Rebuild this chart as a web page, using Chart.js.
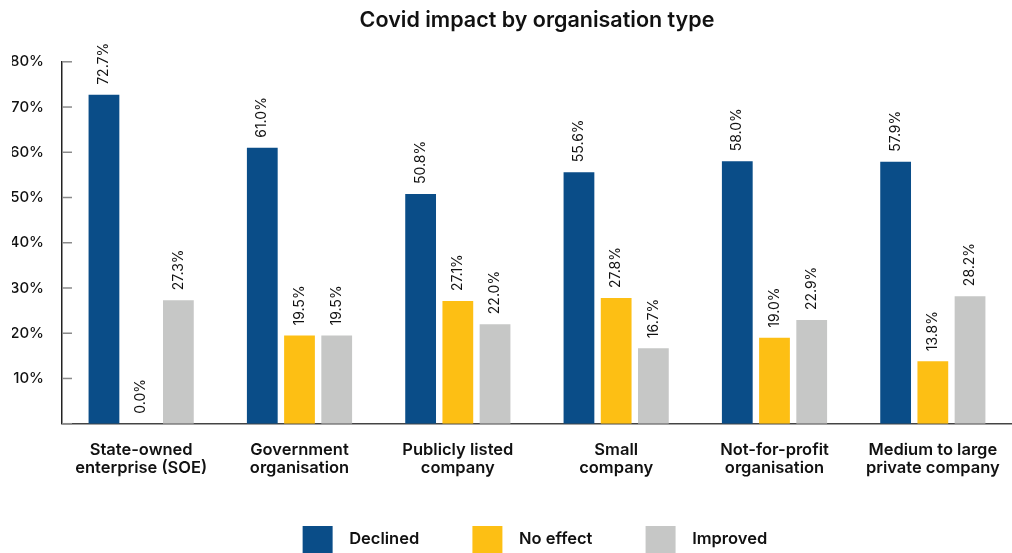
<!DOCTYPE html>
<html>
<head>
<meta charset="utf-8">
<script src="https://cdn.jsdelivr.net/npm/chart.js@4.4.1/dist/chart.umd.min.js"></script>
<style>
  html, body { margin: 0; padding: 0; background: #fff; }
  #wrap { width: 1012px; height: 553px; }
</style>
</head>
<body>
<div id="wrap"><canvas id="impact-chart"></canvas></div>
<script>
const categories = [
    ["State-owned", "enterprise (SOE)"],
    ["Government", "organisation"],
    ["Publicly listed", "company"],
    ["Small", "company"],
    ["Not-for-profit", "organisation"],
    ["Medium to large", "private company"]
];
const declined = [72.7, 61.0, 50.8, 55.6, 58.0, 57.9];
const noEffect = [0.0, 19.5, 27.1, 27.8, 19.0, 13.8];
const improved = [27.3, 19.5, 22.0, 16.7, 22.9, 28.2];
const yTicks = [0, 10, 20, 30, 40, 50, 60, 70, 80];

const FONT = "Inter, 'Noto Sans', sans-serif";

// value labels, rotated, sitting above each bar
const valueLabels = {
    id: 'valueLabels',
    afterDatasetsDraw(chart) {
        const ctx = chart.ctx;
        ctx.save();
        ctx.font = `400 14px ${FONT}`;
        ctx.fillStyle = '#111';
        ctx.textAlign = 'left';
        ctx.textBaseline = 'middle';
        chart.data.datasets.forEach((ds, i) => {
            chart.getDatasetMeta(i).data.forEach((bar, j) => {
                ctx.save();
                ctx.translate(bar.x, bar.y - 10);
                ctx.rotate(-Math.PI / 2);
                ctx.fillText(ds.data[j].toFixed(1) + '%', 0, 0);
                ctx.restore();
            });
        });
        ctx.restore();
    }
};

// short tick marks pointing into the plot
const innerTicks = {
    id: 'innerTicks',
    afterDraw(chart) {
        const ctx = chart.ctx;
        const y = chart.scales.y;
        const left = chart.chartArea.left;
        ctx.save();
        ctx.strokeStyle = '#8a8a8a';
        ctx.lineWidth = 1.5;
        yTicks.forEach(v => {
            const py = y.getPixelForValue(v);
            ctx.beginPath();
            ctx.moveTo(left, py);
            ctx.lineTo(left + 10, py);
            ctx.stroke();
        });
        ctx.restore();
    }
};

const ctx = document.getElementById('impact-chart').getContext('2d');
const impactChart = new Chart(ctx, {
    type: 'bar',
    data: {
        labels: categories,
        datasets: [
            { label: 'Declined', data: declined, backgroundColor: '#0a4d88' },
            { label: 'No effect', data: noEffect, backgroundColor: '#fdbf14' },
            { label: 'Improved', data: improved, backgroundColor: '#c6c7c6' }
        ]
    },
    options: {
        responsive: true,
        maintainAspectRatio: false,
        animation: false,
        categoryPercentage: 0.705,
        barPercentage: 0.827,
        layout: {
            padding: { left: 12, right: 0, top: 0, bottom: -10 }
        },
        plugins: {
            title: {
                display: true,
                fullSize: false,
                text: 'Covid impact by organisation type',
                color: '#111',
                font: { family: FONT, size: 21.5, weight: '600' },
                padding: { top: 8, bottom: 28 }
            },
            legend: {
                position: 'bottom',
                fullSize: false,
                labels: {
                    boxWidth: 30,
                    boxHeight: 27,
                    padding: 49,
                    color: '#111',
                    font: { family: FONT, size: 16.5, weight: '600' },
                    generateLabels(chart) {
                        return Chart.defaults.plugins.legend.labels.generateLabels(chart)
                            .map(item => ({ ...item, text: '  ' + item.text + ' ' }));
                    }
                }
            },
            tooltip: { enabled: false }
        },
        scales: {
            x: {
                afterFit(scale) {
                    scale.paddingLeft = 0;
                    scale.paddingRight = 0;
                },
                grid: {
                    display: true,
                    drawOnChartArea: false,
                    drawTicks: true,
                    tickLength: 17,
                    color: 'rgba(0,0,0,0)'
                },
                border: { color: '#444', width: 1.5 },
                ticks: {
                    color: '#111',
                    padding: 0,
                    maxRotation: 0,
                    autoSkip: false,
                    font: { family: FONT, size: 16.5, weight: '600', lineHeight: 1.1 }
                }
            },
            y: {
                min: 0,
                max: 80,
                afterBuildTicks(scale) {
                    scale.ticks = yTicks.map(v => ({ value: v }));
                },
                afterFit(scale) {
                    scale.width = 50;
                },
                grid: { display: false, drawTicks: false },
                border: { color: '#222', width: 1.5 },
                ticks: {
                    color: '#111',
                    padding: 18,
                    font: { family: FONT, size: 15, weight: '500' },
                    callback: (v) => v === 0 ? '' : v + '%'
                }
            }
        }
    },
    plugins: [valueLabels, innerTicks]
});
</script>
</body>
</html>
